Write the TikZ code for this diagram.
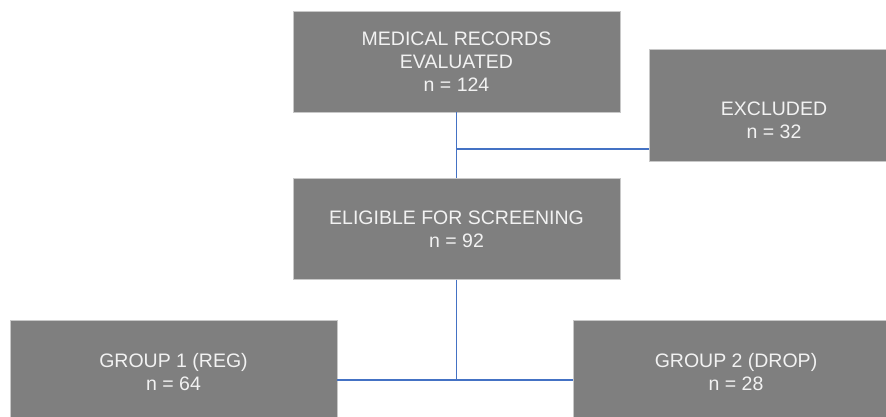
\documentclass[tikz,border=0pt]{standalone}
\usepackage{fontspec}
\setmainfont{Liberation Sans}
\definecolor{boxgray}{RGB}{127,127,127}
\definecolor{boxedge}{RGB}{200,200,200}
\definecolor{txtwhite}{RGB}{242,242,242}
\definecolor{linkblue}{RGB}{68,114,196}
\begin{document}
\begin{tikzpicture}[x=1pt,y=-1pt,
  boxshape/.style={rectangle, fill=boxgray, draw=boxedge, line width=0.6pt, inner sep=0pt},
  boxtext/.style={text=txtwhite, align=center, inner sep=0pt,
    font=\fontsize{19.5}{23}\selectfont},
  link/.style={draw=linkblue, line width=1.2pt}]
\useasboundingbox (0,0) rectangle (886,417);
\clip (0,0) rectangle (886,417);
% boxes
\node[boxshape, minimum width=327pt, minimum height=101pt] (rec) at (456.5,61.5) {};
\node[boxshape, minimum width=250pt, minimum height=112pt] (exc) at (774,105) {};
\node[boxshape, minimum width=327pt, minimum height=101pt] (eli) at (456.5,228.7) {};
\node[boxshape, minimum width=327pt, minimum height=104pt] (g1) at (173.5,372.5) {};
\node[boxshape, minimum width=326pt, minimum height=104pt] (g2) at (736,372.5) {};
% texts
\node[boxtext] (recT) at (456.5,62) {MEDICAL RECORDS\\EVALUATED\\n = 124};
\node[boxtext] (excT) at (774,120) {EXCLUDED\\n = 32};
\node[boxtext] (eliT) at (456.5,229.5) {ELIGIBLE FOR SCREENING\\n = 92};
\node[boxtext] (g1T) at (173.5,372) {GROUP 1 (REG)\\n = 64};
\node[boxtext] (g2T) at (736,372) {GROUP 2 (DROP)\\n = 28};
% connectors
\coordinate (j1) at (456.5,149);
\coordinate (j2) at (456.5,380);
\draw[link] (rec.south) -- (eli.north);
\draw[link] (j1) -- (j1 -| exc.west);
\draw[link] (eli.south) -- (j2);
\draw[link] (j2 -| g1.east) -- (j2 -| g2.west);
\end{tikzpicture}
\end{document}
